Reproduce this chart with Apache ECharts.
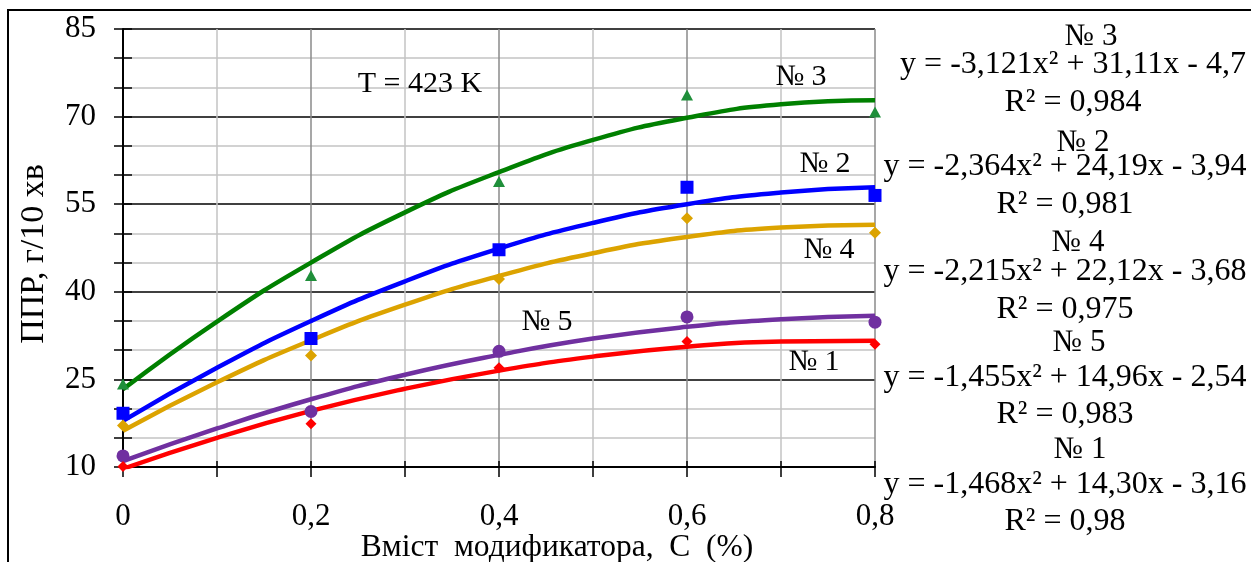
<!DOCTYPE html>
<html>
<head>
<meta charset="utf-8">
<script src="https://cdn.jsdelivr.net/npm/echarts@6/dist/echarts.min.js"></script>
<style>
html,body{margin:0;padding:0;background:#fff;}
#chart{width:1251px;height:562px;}
</style>
</head>
<body>
<div id="chart"></div>
<script>
// ---- data ----
const pointX = [0, 0.2, 0.4, 0.6, 0.8];
const trendX = [0, 0.1, 0.2, 0.3, 0.4, 0.5, 0.6, 0.7, 0.8];

const pts3 = [24.2, 42.8, 58.9, 73.7, 70.8];
const pts2 = [19.2, 32.0, 47.2, 57.9, 56.5];
const pts4 = [17.1, 29.1, 42.2, 52.6, 50.1];
const pts5 = [11.9, 19.5, 29.8, 35.7, 34.8];
const pts1 = [10.1, 17.4, 27.0, 31.5, 31.0];

const trend3 = [23.3, 34.9, 45.0, 53.6, 60.5, 66.0, 69.8, 72.1, 72.8];
const trend2 = [17.9, 27.0, 35.0, 41.8, 47.4, 51.8, 55.0, 57.0, 57.9];
const trend4 = [16.2, 24.5, 31.7, 37.8, 42.7, 46.6, 49.4, 51.0, 51.5];
const trend5 = [11.0, 16.6, 21.6, 25.8, 29.2, 32.0, 34.0, 35.3, 35.9];
const trend1 = [9.7, 15.0, 19.6, 23.4, 26.5, 28.9, 30.6, 31.5, 31.6];

const seriesNames = ['№ 3', '№ 2', '№ 4', '№ 5', '№ 1'];
const equations = [
  'y = -3,121x² + 31,11x - 4,7',
  'y = -2,364x² + 24,19x - 3,94',
  'y = -2,215x² + 22,12x - 3,68',
  'y = -1,455x² + 14,96x - 2,54',
  'y = -1,468x² + 14,30x - 3,16'
];
const r2Texts = ['R² = 0,984', 'R² = 0,981', 'R² = 0,975', 'R² = 0,983', 'R² = 0,98'];
const tempLabel = 'T = 423 K';
const xTitle = 'Вміст  модификатора,  С  (%)';
const yTitle = 'ППР, г/10 хв';

// ---- helpers ----
const SERIF = 'Liberation Serif';
const pair = (xs, ys) => xs.map((x, i) => [x, ys[i]]);
const fmt = v => String(Math.round(v * 10) / 10).replace('.', ',');

const colors = {
  g: '#008000', gm: '#1f8f3a',
  b: '#0000ff',
  o: '#dca300',
  p: '#7030a0',
  r: '#ff0000'
};

function trendSeries(data, color) {
  return {
    type: 'line', data: pair(trendX, data), smooth: true, showSymbol: false,
    lineStyle: { color: color, width: 4.5 }, silent: true, z: 3, clip: true
  };
}
function ptSeries(data, color, symbol, size) {
  return {
    type: 'scatter', data: pair(pointX, data), symbol: symbol, symbolSize: size,
    itemStyle: { color: color, opacity: 1 }, z: 4, clip: false
  };
}

const chart = echarts.init(document.getElementById('chart'), null, { renderer: 'canvas' });

const G = { left: 123, top: 29, width: 752, height: 438 };

function txt(text, x, y, size, rot) {
  const o = {
    type: 'text', x: x, y: y, z: 10,
    style: {
      text: text, fontSize: size, fontFamily: SERIF, fill: '#000',
      align: 'center', verticalAlign: 'middle'
    }
  };
  if (rot) o.rotation = rot;
  return o;
}

// right-side equation block
const headCenters = [1091, 1083, 1078, 1079, 1080];
const blockCenters = [1073, 1065, 1065, 1065, 1065];
const blockY = [[37, 65, 103], [143, 167, 205], [243, 272, 310], [343, 378, 415], [450, 485, 522]];
const graphics = [
  { type: 'rect', shape: { x: 8, y: 10, width: 1400, height: 700 }, style: { fill: null, stroke: '#000', lineWidth: 2 }, z: 0, silent: true },
  txt(tempLabel, 420, 84, 30),
  txt(seriesNames[0], 801, 77, 30),
  txt(seriesNames[1], 825, 164, 30),
  txt(seriesNames[2], 829, 250, 30),
  txt(seriesNames[3], 547, 322, 30),
  txt(seriesNames[4], 814, 362, 30),
  txt(xTitle, 557, 548, 31.5),
  txt(yTitle, 34, 254, 34, Math.PI / 2)
];
for (let i = 0; i < 5; i++) {
  graphics.push(txt(seriesNames[i], headCenters[i], blockY[i][0], 31));
  graphics.push(txt(equations[i], blockCenters[i], blockY[i][1], 32));
  graphics.push(txt(r2Texts[i], blockCenters[i], blockY[i][2], 32));
}

const option = {
  animation: false,
  backgroundColor: '#fff',
  textStyle: { fontFamily: SERIF },
  grid: G,
  xAxis: [{
    type: 'value', min: 0, max: 0.8, interval: 0.2, position: 'bottom',
    axisLine: { show: true, onZero: false, lineStyle: { color: '#000', width: 2 } },
    axisTick: { show: true, length: 10, lineStyle: { color: '#000', width: 1.5 } },
    minorTick: { show: true, splitNumber: 2, length: 10, lineStyle: { color: '#000', width: 1.5 } },
    axisLabel: { margin: 34, fontSize: 31, fontFamily: SERIF, color: '#000', formatter: fmt },
    splitLine: { show: true, lineStyle: { color: '#8a8a8a', width: 1.5 } },
    minorSplitLine: { show: true, lineStyle: { color: '#c4c4c4', width: 1.5 } }
  }, {
    type: 'value', min: 0, max: 0.8, interval: 0.2, position: 'bottom', offset: 0,
    axisLine: { show: false, onZero: false },
    axisTick: { show: true, inside: true, length: 6, lineStyle: { color: '#000', width: 1.5 } },
    minorTick: { show: true, splitNumber: 2, length: 6, lineStyle: { color: '#000', width: 1.5 } },
    axisLabel: { show: false }, splitLine: { show: false }
  }],
  yAxis: [{
    type: 'value', min: 10, max: 85, interval: 15, position: 'left',
    axisLine: { show: true, onZero: false, lineStyle: { color: '#000', width: 2 } },
    axisTick: { show: true, length: 9, lineStyle: { color: '#000', width: 1.5 } },
    minorTick: { show: true, splitNumber: 3, length: 9, lineStyle: { color: '#000', width: 1.5 } },
    axisLabel: { margin: 27, fontSize: 31, fontFamily: SERIF, color: '#000' },
    splitLine: { show: true, lineStyle: { color: '#000', width: 1.5 } },
    minorSplitLine: { show: true, lineStyle: { color: '#c4c4c4', width: 1.5 } }
  }, {
    type: 'value', min: 10, max: 85, interval: 15, position: 'left', offset: 0,
    axisLine: { show: false, onZero: false },
    axisTick: { show: true, inside: true, length: 9, lineStyle: { color: '#000', width: 1.5 } },
    minorTick: { show: true, splitNumber: 3, length: 9, lineStyle: { color: '#000', width: 1.5 } },
    axisLabel: { show: false }, splitLine: { show: false }
  }],
  series: [
    trendSeries(trend3, colors.g),
    trendSeries(trend2, colors.b),
    trendSeries(trend4, colors.o),
    trendSeries(trend5, colors.p),
    trendSeries(trend1, colors.r),
    ptSeries(pts3, colors.gm, 'triangle', [12, 11]),
    ptSeries(pts2, colors.b, 'rect', 13),
    ptSeries(pts4, colors.o, 'diamond', [12, 12]),
    ptSeries(pts5, colors.p, 'circle', 13),
    ptSeries(pts1, colors.r, 'diamond', [11, 11])
  ],
  graphic: graphics
};
chart.setOption(option);
</script>
</body>
</html>
